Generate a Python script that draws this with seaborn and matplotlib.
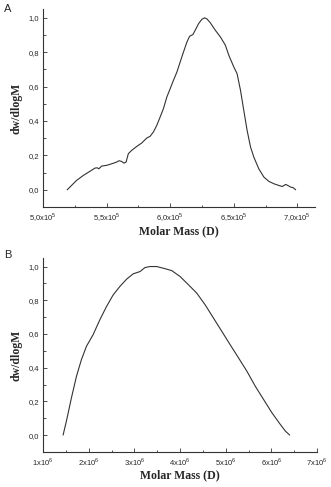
import numpy as np
import pandas as pd
import matplotlib.pyplot as plt
from matplotlib.ticker import FixedLocator, MultipleLocator
import seaborn as sns

# Panel A: molar mass (x1e5) vs normalised dw/dlogM
mass_a = [5.19, 5.224, 5.263, 5.316, 5.368, 5.408, 5.426, 5.439, 5.461, 5.5,
          5.539, 5.579, 5.597, 5.618, 5.637, 5.653, 5.671, 5.697, 5.737, 5.776,
          5.816, 5.842, 5.868, 5.895, 5.921, 5.947, 5.974, 6.0, 6.026, 6.053,
          6.079, 6.105, 6.132, 6.153, 6.179, 6.197, 6.224, 6.25, 6.271, 6.289,
          6.316, 6.355, 6.395, 6.434, 6.461, 6.5, 6.526, 6.553, 6.579, 6.605,
          6.632, 6.658, 6.697, 6.737, 6.776, 6.816, 6.855, 6.882, 6.908, 6.926,
          6.947, 6.968, 6.987]
signal_a = [0.0, 0.025, 0.054, 0.083, 0.107, 0.126, 0.128, 0.122, 0.138, 0.142,
            0.151, 0.161, 0.169, 0.165, 0.155, 0.161, 0.21, 0.229, 0.252, 0.272,
            0.301, 0.311, 0.336, 0.375, 0.423, 0.472, 0.54, 0.588, 0.637, 0.685,
            0.744, 0.802, 0.86, 0.893, 0.903, 0.928, 0.967, 0.992, 1.0, 0.994,
            0.971, 0.928, 0.889, 0.841, 0.783, 0.715, 0.676, 0.579, 0.462, 0.346,
            0.249, 0.19, 0.122, 0.074, 0.049, 0.035, 0.025, 0.019, 0.031, 0.025,
            0.016, 0.012, 0.0]

# Panel B: molar mass (x1e6) vs normalised dw/dlogM
mass_b = [1.439, 1.512, 1.622, 1.732, 1.841, 1.951, 2.097, 2.244, 2.39, 2.536,
          2.683, 2.829, 2.975, 3.122, 3.232, 3.341, 3.487, 3.634, 3.817, 4.0,
          4.183, 4.366, 4.549, 4.732, 4.915, 5.097, 5.28, 5.463, 5.646, 5.829,
          6.012, 6.195, 6.305, 6.4]
signal_b = [0.0, 0.083, 0.221, 0.349, 0.448, 0.527, 0.596, 0.684, 0.763, 0.832,
            0.882, 0.925, 0.957, 0.97, 0.994, 1.0, 1.0, 0.99, 0.976, 0.941,
            0.892, 0.842, 0.773, 0.694, 0.615, 0.536, 0.458, 0.379, 0.29, 0.211,
            0.132, 0.063, 0.024, 0.0]

xticks_a = [5.0e5, 5.5e5, 6.0e5, 6.5e5, 7.0e5]
xlabels_a = [r'5,0x10$^5$', r'5,5x10$^5$', r'6,0x10$^5$', r'6,5x10$^5$', r'7,0x10$^5$']
xticks_b = [1e6, 2e6, 3e6, 4e6, 5e6, 6e6, 7e6]
xlabels_b = [r'%dx10$^6$' % i for i in range(1, 8)]
yticks = [0.0, 0.2, 0.4, 0.6, 0.8, 1.0]
ylabels = ['0,0', '0,2', '0,4', '0,6', '0,8', '1,0']

sns.set_style('ticks')
plt.rcParams['font.family'] = ['Liberation Sans', 'DejaVu Sans']
plt.rcParams['mathtext.fontset'] = 'custom'
plt.rcParams['mathtext.rm'] = 'Liberation Sans'

df_a = pd.DataFrame({'mass': np.array(mass_a) * 1e5, 'signal': signal_a})
df_b = pd.DataFrame({'mass': np.array(mass_b) * 1e6, 'signal': signal_b})

fig = plt.figure(figsize=(3.31, 4.87), dpi=100)
ax_a = fig.add_axes([0.130, 0.575, 0.822, 0.406])
ax_b = fig.add_axes([0.130, 0.072, 0.828, 0.398])

panels = [
    (ax_a, df_a, (5.0e5, 7.14e5), xticks_a, xlabels_a, 0.25e5),
    (ax_b, df_b, (1e6, 7e6), xticks_b, xlabels_b, 0.5e6),
]

for ax, df, xlim, xt, xl, minor in panels:
    sns.lineplot(data=df, x='mass', y='signal', ax=ax, color='#333333', linewidth=0.8)
    ax.set_xlim(*xlim)
    ax.set_ylim(-0.1, 1.05)
    ax.xaxis.set_major_locator(FixedLocator(xt))
    ax.set_xticklabels(xl)
    ax.xaxis.set_minor_locator(MultipleLocator(minor))
    ax.yaxis.set_major_locator(FixedLocator(yticks))
    ax.set_yticklabels(ylabels)
    ax.yaxis.set_minor_locator(MultipleLocator(0.1))
    ax.tick_params(which='both', direction='in', labelsize=5.5, width=0.6, color='#333333', pad=3)
    ax.tick_params(which='major', length=3)
    ax.tick_params(which='minor', length=1.8)
    for side in ['top', 'right']:
        ax.spines[side].set_visible(False)
    for side in ['left', 'bottom']:
        ax.spines[side].set_linewidth(0.8)
        ax.spines[side].set_color('#333333')
    ax.set_xlabel('Molar Mass (D)', family='Liberation Serif', fontweight='bold', fontsize=8.5, labelpad=1)
    ax.set_ylabel('dw/dlogM', family='Liberation Serif', fontweight='bold', fontsize=8.5, labelpad=4)

fig.text(0.012, 0.992, 'A', fontsize=8, va='top', ha='left')
fig.text(0.012, 0.487, 'B', fontsize=8, va='top', ha='left')

fig.savefig('out.png', dpi=100)
